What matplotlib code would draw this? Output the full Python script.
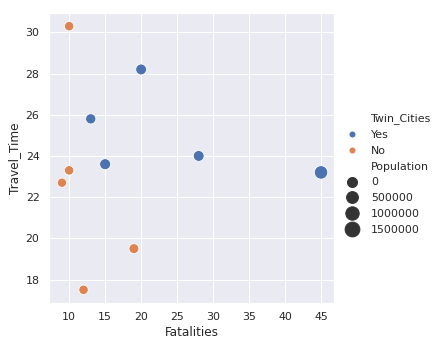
import matplotlib
matplotlib.use('Agg')
import matplotlib.pyplot as plt
from matplotlib.lines import Line2D
import numpy as np
import seaborn as sns

# data
twin_yes_fatalities = [13, 15, 20, 28, 45]
twin_yes_travel = [25.8, 23.6, 28.2, 24.0, 23.2]
twin_yes_pop = [400000, 650000, 600000, 600000, 1600000]

twin_no_fatalities = [10, 10, 9, 19, 12]
twin_no_travel = [30.3, 23.3, 22.7, 19.5, 17.5]
twin_no_pop = [150000, 150000, 100000, 300000, 150000]

legend_pops = [0, 500000, 1000000, 1500000]

BLUE = '#4C72B0'
ORANGE = '#DD8452'
DARK = '#333333'


def area(pop):
    return 80 + np.asarray(pop) / 1.6e6 * 100


sns.set_theme(style='darkgrid')
plt.rcParams['font.family'] = ['DejaVu Sans']

fig = plt.figure(figsize=(442 / 72, 348 / 72), dpi=72)
ax = fig.add_axes([49 / 442, 45 / 348, 285 / 442, 290 / 348])

ax.scatter(twin_yes_fatalities, twin_yes_travel, s=area(twin_yes_pop), color=BLUE,
           edgecolor='white', linewidth=0.8, zorder=3)
ax.scatter(twin_no_fatalities, twin_no_travel, s=area(twin_no_pop), color=ORANGE,
           edgecolor='white', linewidth=0.8, zorder=3)

ax.set_xlabel('Fatalities', fontsize=12)
ax.set_ylabel('Travel_Time', fontsize=12)
ax.tick_params(labelsize=11)
ax.set_xticks([10, 15, 20, 25, 30, 35, 40, 45])
ax.set_yticks([18, 20, 22, 24, 26, 28, 30])

blank = Line2D([], [], linestyle='none', marker='')
handles = [blank,
           Line2D([], [], linestyle='none', marker='o', color=BLUE, markersize=5),
           Line2D([], [], linestyle='none', marker='o', color=ORANGE, markersize=5),
           blank]
labels = ['Twin_Cities', 'Yes', 'No', 'Population']
for p in legend_pops:
    handles.append(Line2D([], [], linestyle='none', marker='o', color=DARK,
                          markersize=np.sqrt(area(p)) * 1.12))
    labels.append(str(p))

fig.legend(handles, labels, loc='center left', bbox_to_anchor=(340 / 442, 0.5),
           frameon=False, fontsize=11, handlelength=1.4, handletextpad=1.0,
           labelspacing=0.53, borderaxespad=0)

fig.savefig('out.png', dpi=72)
